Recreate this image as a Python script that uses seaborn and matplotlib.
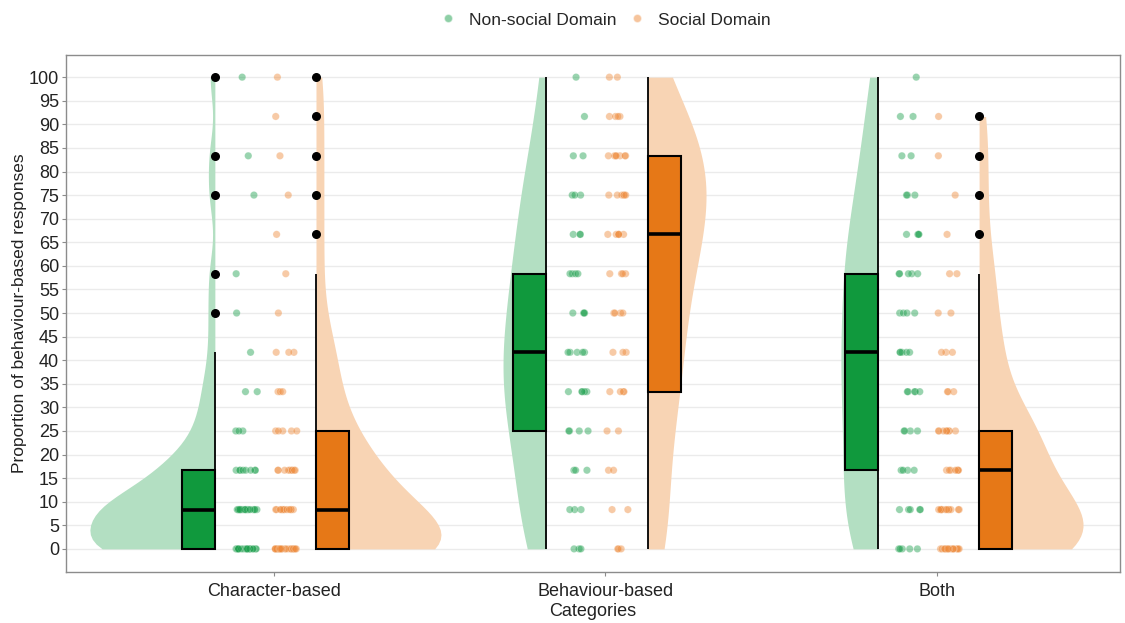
import numpy as np
import pandas as pd
import matplotlib
matplotlib.use("Agg")
import matplotlib.pyplot as plt
from matplotlib.patches import Rectangle
from matplotlib.lines import Line2D
import seaborn as sns

# Response categories and the two domains
categories = ["Character-based", "Behaviour-based", "Both"]
domains = ["Non-social Domain", "Social Domain"]

# Possible proportions (k out of 12 answers, in %)
levels = [0, 8.33, 16.67, 25, 33.33, 41.67, 50, 58.33, 66.67, 75, 83.33, 91.67, 100]

# Number of participants at each proportion level
character_nonsocial = [20, 18, 8, 3, 2, 1, 1, 1, 0, 1, 1, 0, 1]
character_social = [26, 12, 9, 5, 3, 3, 1, 1, 1, 1, 1, 1, 1]
behaviour_nonsocial = [3, 3, 3, 4, 5, 5, 4, 4, 3, 3, 2, 1, 1]
behaviour_social = [3, 2, 2, 2, 4, 3, 4, 4, 6, 6, 7, 4, 2]
both_nonsocial = [5, 5, 4, 4, 5, 5, 4, 5, 4, 3, 2, 2, 1]
both_social = [16, 12, 7, 8, 3, 3, 2, 2, 1, 1, 1, 1, 0]

counts = {
    ("Character-based", "Non-social Domain"): character_nonsocial,
    ("Character-based", "Social Domain"): character_social,
    ("Behaviour-based", "Non-social Domain"): behaviour_nonsocial,
    ("Behaviour-based", "Social Domain"): behaviour_social,
    ("Both", "Non-social Domain"): both_nonsocial,
    ("Both", "Social Domain"): both_social,
}

rows = []
for (cat, dom), cnt in counts.items():
    for lvl, c in zip(levels, cnt):
        rows += [(cat, dom, lvl)] * c
df = pd.DataFrame(rows, columns=["category", "domain", "value"])
df["cat_idx"] = df["category"].map({c: i for i, c in enumerate(categories)})

# Layout of each raincloud relative to its category position
base_off = {"Non-social Domain": -0.178, "Social Domain": 0.127}
point_off = {"Non-social Domain": -0.083, "Social Domain": 0.036}
side = {"Non-social Domain": -1, "Social Domain": 1}
box_w = 0.10
violin_reach = 0.377  # widest half-violin, in category units

dark = {"Non-social Domain": "#10993D", "Social Domain": "#E67817"}
light = {"Non-social Domain": "#B3DFC2", "Social Domain": "#F8D4B4"}
pts = {"Non-social Domain": "#1EA04E", "Social Domain": "#EE8A3A"}


def nrd0(kde):
    """Silverman's rule of thumb using min(sd, IQR/1.34), as a scipy factor."""
    d = kde.dataset[0]
    sd = d.std(ddof=1)
    q75, q25 = np.percentile(d, [75, 25])
    spread = min(sd, (q75 - q25) / 1.34) or sd
    return 0.9 * spread / sd * len(d) ** -0.2


sns.set_theme(style="white")
plt.rcParams["font.family"] = ["Liberation Sans", "DejaVu Sans"]

fig = plt.figure(figsize=(11.25, 6.23), dpi=100)
ax = fig.add_axes([66 / 1125, 51 / 623, (1120 - 66) / 1125, (572 - 55) / 623])

# Half violins: seaborn puts the flat side of a split half at pos +/- width/2,
# so shift each violin's anchor outward by half the violin width.
hw = violin_reach / 2
df["vpos"] = (df["cat_idx"] + df["domain"].map(base_off)
              + df["domain"].map(side) * hw)
native_w = np.diff(np.unique(df["vpos"].to_numpy())).min()
sns.violinplot(data=df, x="vpos", y="value", hue="domain", hue_order=domains,
               native_scale=True, split=True, dodge=False, inner=None, cut=0,
               density_norm="area", common_norm=False, bw_method=nrd0,
               bw_adjust=1, width=2 * hw / native_w, palette=light,
               saturation=1, linewidth=0, legend=False, ax=ax)

# Jittered raw points
rng = np.random.default_rng(11)
df["px"] = (df["cat_idx"] + df["domain"].map(point_off)
            + rng.uniform(-0.033, 0.033, len(df)))
sns.scatterplot(data=df, x="px", y="value", hue="domain", hue_order=domains,
                palette=pts, alpha=0.45, s=28, edgecolor="white", linewidth=0.3,
                legend=False, ax=ax, zorder=3)

# Boxplots with whiskers along the violin side
for (cat, dom), sub in df.groupby(["category", "domain"]):
    v = sub["value"].to_numpy()
    q1, med, q3 = np.percentile(v, [25, 50, 75])
    iqr = q3 - q1
    hi = v[v <= q3 + 1.5 * iqr + 1e-6].max()
    lo = v[v >= q1 - 1.5 * iqr - 1e-6].min()
    out = np.unique(v[(v > hi) | (v < lo)])
    edge = categories.index(cat) + base_off[dom]
    x0 = edge - box_w if dom == "Non-social Domain" else edge
    ax.vlines(edge, lo, hi, color="black", lw=1.3, zorder=4)
    ax.add_patch(Rectangle((x0, q1), box_w, q3 - q1, facecolor=dark[dom],
                           edgecolor="black", lw=1.5, zorder=5))
    ax.plot([x0, x0 + box_w], [med, med], color="black", lw=2.6, zorder=6,
            solid_capstyle="butt")
    ax.scatter(np.full(len(out), edge), out, color="black", s=30, zorder=7)

ax.set_xlim(-0.627, 2.552)
ax.set_ylim(-4.9, 104.7)
ax.set_xticks(range(len(categories)))
ax.set_xticklabels(categories)
ax.set_yticks(np.arange(0, 101, 5))
ax.grid(axis="y", color="#EBEBEB", lw=1)
ax.grid(axis="x", visible=False)
ax.set_axisbelow(True)
for s in ax.spines.values():
    s.set_color("#8C8C8C")
    s.set_linewidth(1)
ax.tick_params(axis="both", length=3, width=0.8, color="#8C8C8C",
               labelsize=13, labelcolor="#222222", bottom=True, left=True)
ax.tick_params(axis="x", pad=5)
ax.tick_params(axis="y", pad=2)
ax.set_xlabel("Categories", fontsize=13, color="#222222", labelpad=2)
ax.set_ylabel("Proportion of behaviour-based responses", fontsize=12.5,
              color="#222222", labelpad=1)

handles = [Line2D([], [], marker="o", ls="", markersize=6, alpha=0.5,
                  markerfacecolor=pts[d], markeredgecolor="white", label=d)
           for d in domains]
fig.legend(handles=handles, loc="center", bbox_to_anchor=(0.534, 0.968), ncol=2,
           frameon=False, fontsize=12.5, handletextpad=0.2, columnspacing=0.2)

fig.savefig("out.png", dpi=100)
